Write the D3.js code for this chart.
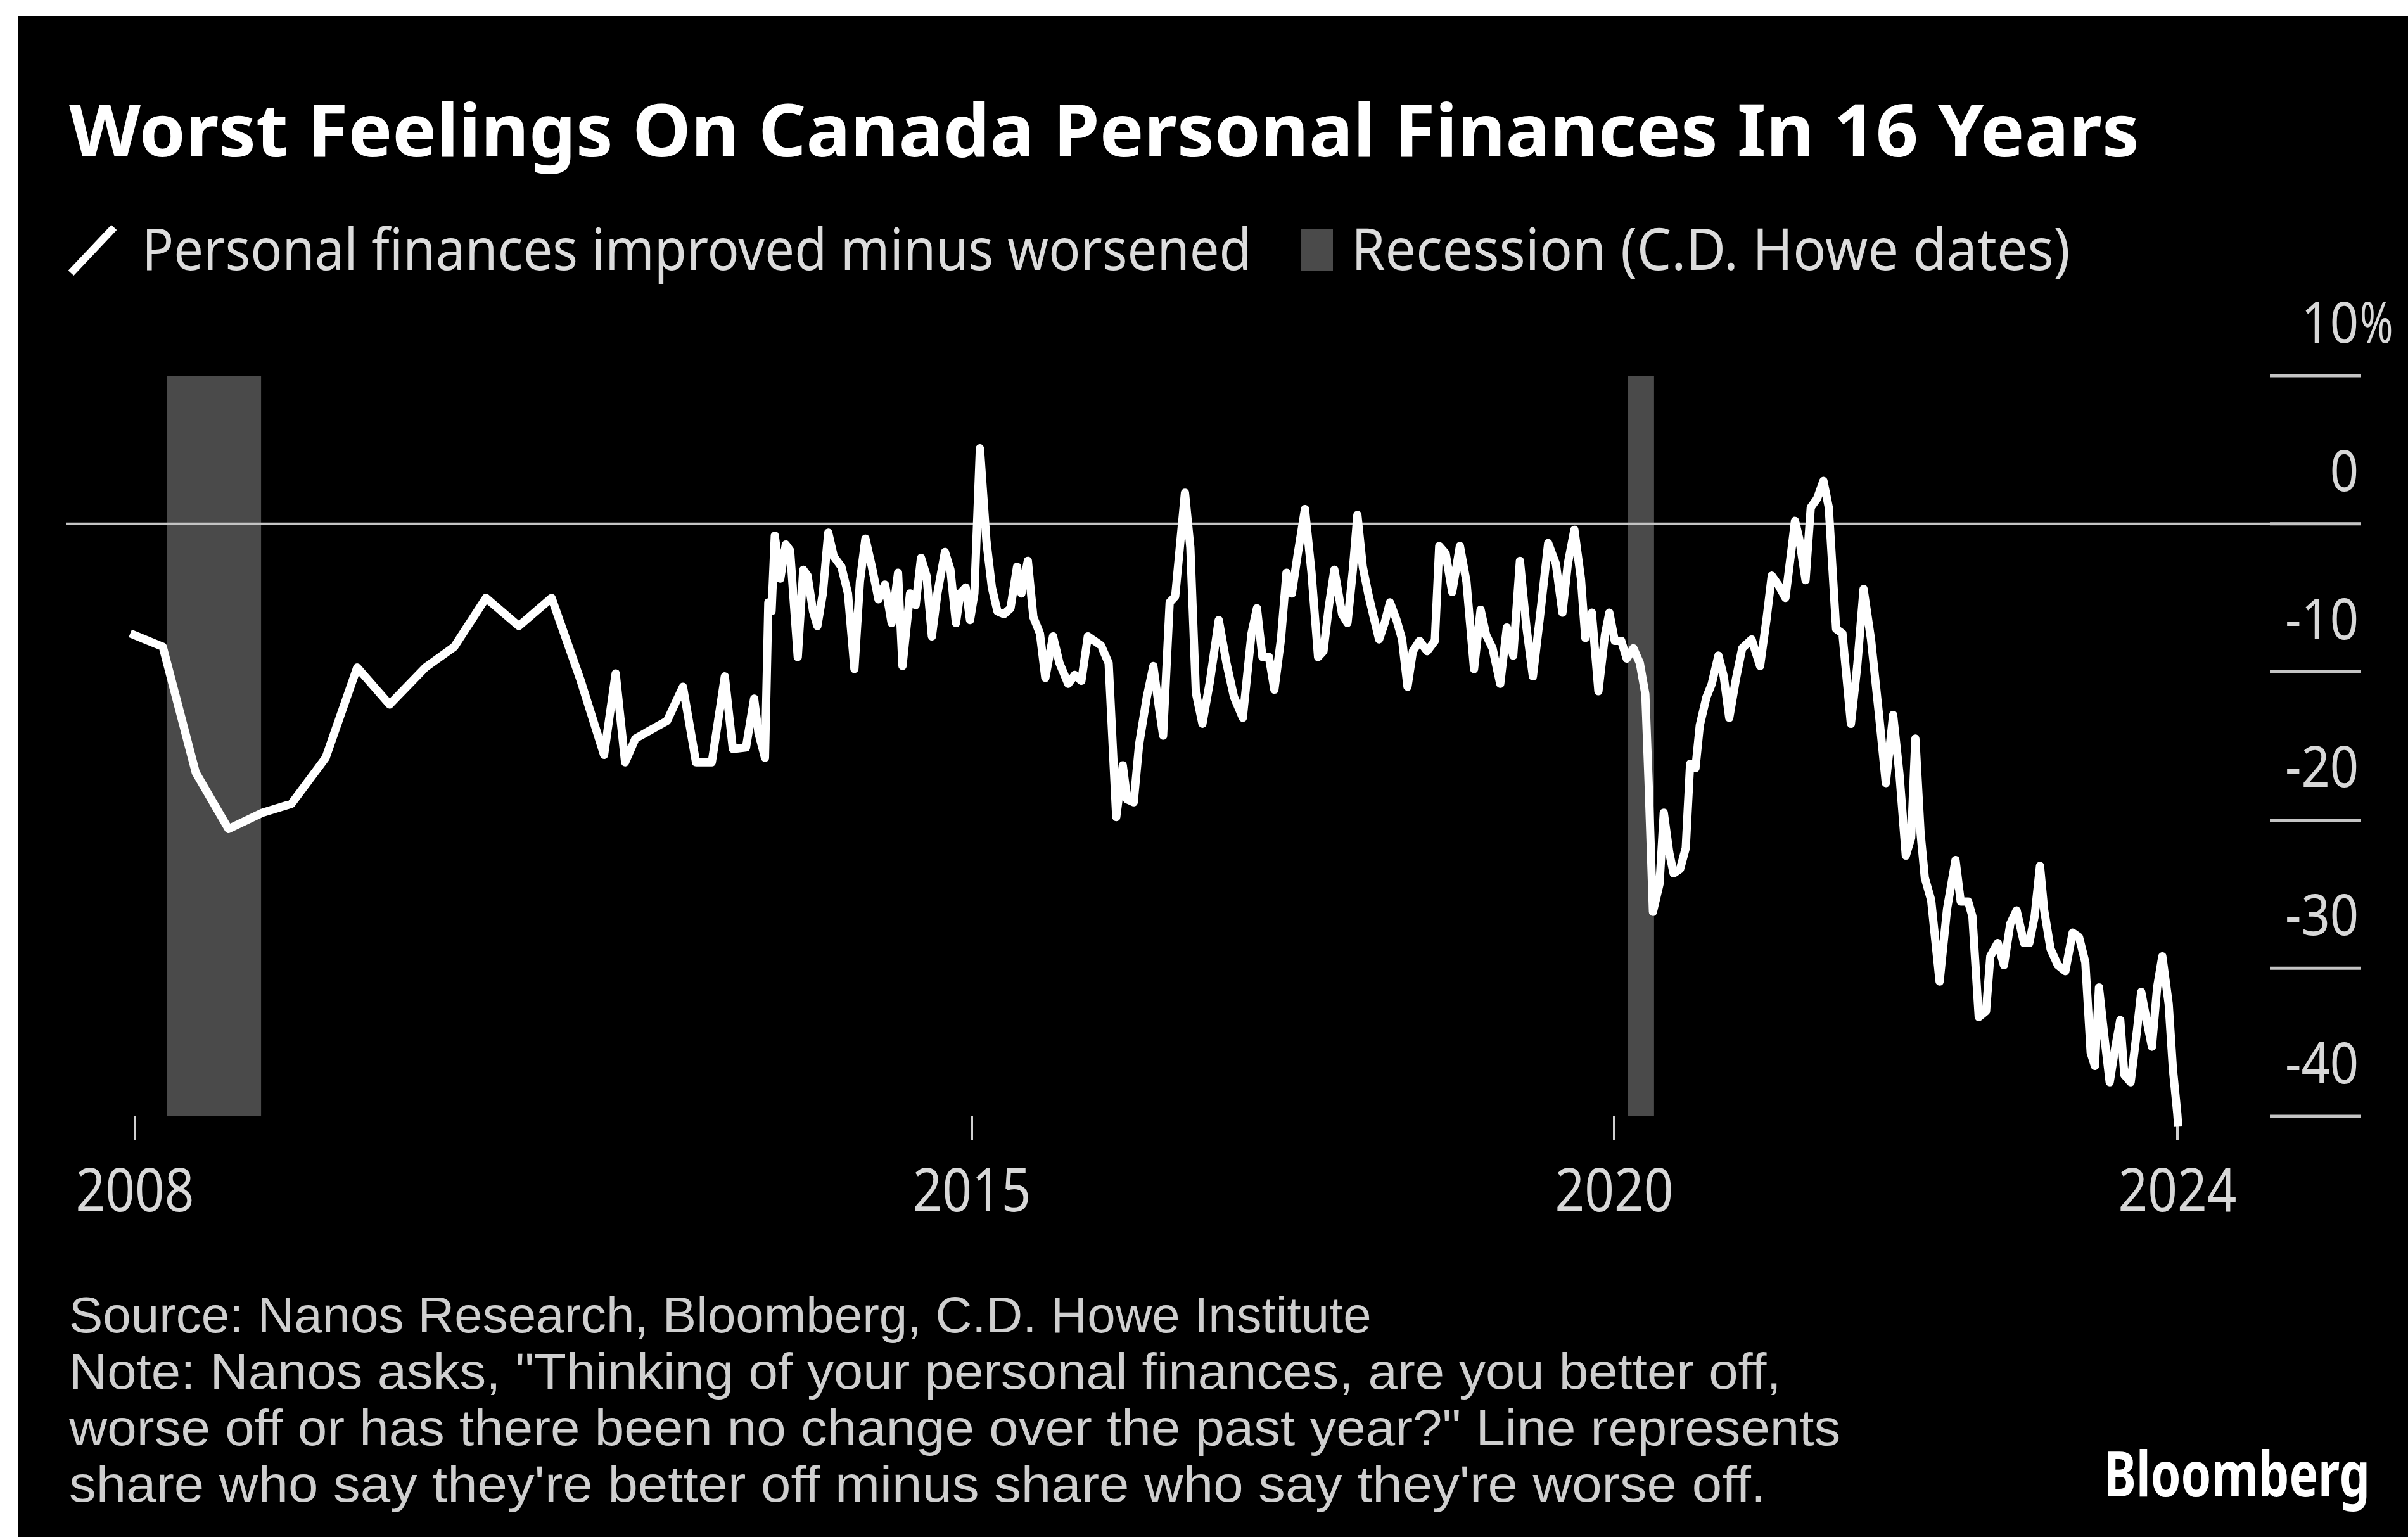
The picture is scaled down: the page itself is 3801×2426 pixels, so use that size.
<!DOCTYPE html>
<html>
<head>
<meta charset="utf-8">
<script src="https://cdn.jsdelivr.net/npm/d3@7"></script>
<style>
  html, body { margin: 0; padding: 0; background: #ffffff; }
  svg { display: block; }
</style>
</head>
<body>
<svg id="chart" width="3801" height="2426"></svg>
<script>
// Nanos survey: decimal year of each reading
const obsYears = [
  2007.961, 2008.233, 2008.509, 2008.783, 2009.068, 2009.309, 2009.595, 2009.859,
  2010.130, 2010.430, 2010.671, 2010.936, 2011.211, 2011.485, 2011.725, 2011.924,
  2012.021, 2012.100, 2012.186, 2012.451, 2012.584, 2012.693, 2012.825, 2012.934,
  2013.001, 2013.111, 2013.179, 2013.215, 2013.270, 2013.298, 2013.325, 2013.352,
  2013.398, 2013.444, 2013.480, 2013.544, 2013.590, 2013.626, 2013.672, 2013.708,
  2013.754, 2013.799, 2013.845, 2013.909, 2013.964, 2014.018, 2014.064, 2014.110,
  2014.164, 2014.219, 2014.274, 2014.329, 2014.383, 2014.420, 2014.483, 2014.530,
  2014.575, 2014.621, 2014.666, 2014.712, 2014.775, 2014.821, 2014.867, 2014.903,
  2014.949, 2014.985, 2015.020, 2015.063, 2015.114, 2015.156, 2015.199, 2015.250,
  2015.301, 2015.352, 2015.386, 2015.436, 2015.479, 2015.530, 2015.572, 2015.632,
  2015.682, 2015.750, 2015.801, 2015.853, 2015.903, 2016.005, 2016.065, 2016.124,
  2016.175, 2016.209, 2016.260, 2016.302, 2016.362, 2016.413, 2016.455, 2016.489,
  2016.540, 2016.583, 2016.659, 2016.701, 2016.744, 2016.795, 2016.854, 2016.922,
  2016.982, 2017.041, 2017.109, 2017.177, 2017.219, 2017.262, 2017.313, 2017.355,
  2017.406, 2017.449, 2017.491, 2017.534, 2017.593, 2017.644, 2017.695, 2017.737,
  2017.780, 2017.822, 2017.882, 2017.924, 2017.966, 2018.001, 2018.043, 2018.085,
  2018.128, 2018.170, 2018.213, 2018.255, 2018.306, 2018.349, 2018.391, 2018.433,
  2018.485, 2018.544, 2018.604, 2018.638, 2018.688, 2018.739, 2018.799, 2018.850,
  2018.909, 2018.960, 2019.003, 2019.053, 2019.113, 2019.164, 2019.214, 2019.266,
  2019.317, 2019.367, 2019.419, 2019.486, 2019.546, 2019.597, 2019.639, 2019.690,
  2019.741, 2019.775, 2019.826, 2019.877, 2019.928, 2019.962, 2020.004, 2020.050,
  2020.089, 2020.136, 2020.182, 2020.221, 2020.244, 2020.275, 2020.322, 2020.352,
  2020.391, 2020.422, 2020.468, 2020.508, 2020.539, 2020.577, 2020.608, 2020.655,
  2020.693, 2020.740, 2020.778, 2020.817, 2020.864, 2020.909, 2020.976, 2021.036,
  2021.081, 2021.119, 2021.164, 2021.216, 2021.261, 2021.284, 2021.314, 2021.359,
  2021.396, 2021.441, 2021.486, 2021.524, 2021.576, 2021.621, 2021.681, 2021.726,
  2021.771, 2021.824, 2021.884, 2021.929, 2021.981, 2022.026, 2022.071, 2022.109,
  2022.139, 2022.176, 2022.206, 2022.251, 2022.311, 2022.364, 2022.424, 2022.461,
  2022.514, 2022.544, 2022.589, 2022.641, 2022.671, 2022.724, 2022.768, 2022.813,
  2022.858, 2022.911, 2022.948, 2022.986, 2023.024, 2023.054, 2023.099, 2023.151,
  2023.204, 2023.256, 2023.301, 2023.346, 2023.384, 2023.414, 2023.443, 2023.481,
  2023.519, 2023.556, 2023.594, 2023.623, 2023.668, 2023.713, 2023.743, 2023.781,
  2023.819, 2023.856, 2023.893, 2023.938, 2023.968, 2023.999, 2024.006
];

// Share better off minus share worse off (%)
const netBalance = [
  -7.4, -8.3, -16.8, -20.6, -19.5, -18.9, -15.8, -9.7,
  -12.2, -9.7, -8.3, -5.0, -6.9, -5.0, -10.5, -15.6,
  -10.1, -16.1, -14.5, -13.3, -11.0, -16.1, -16.1, -10.3,
  -15.2, -15.1, -11.8, -14.1, -15.8, -5.3, -5.9, -0.8,
  -3.7, -1.4, -1.8, -9.0, -3.1, -3.5, -5.9, -6.9,
  -4.7, -0.6, -2.2, -2.9, -4.7, -9.8, -3.9, -1.0,
  -2.9, -5.1, -4.1, -6.7, -3.3, -9.6, -4.7, -5.5,
  -2.3, -3.5, -7.6, -4.7, -1.9, -3.1, -6.7, -4.7,
  -4.3, -6.5, -4.7, 5.1, -1.2, -4.3, -5.9, -6.1,
  -5.7, -2.9, -4.7, -2.5, -6.3, -7.4, -10.4, -7.6,
  -9.4, -10.8, -10.2, -10.6, -7.6, -8.2, -9.4, -19.8,
  -16.3, -18.6, -18.8, -14.9, -11.7, -9.6, -12.3, -14.3,
  -5.3, -4.9, 2.1, -1.6, -11.4, -13.5, -10.6, -6.5,
  -9.4, -11.7, -13.1, -7.4, -5.7, -9.0, -9.0, -11.2,
  -7.8, -3.3, -4.7, -2.2, 1.0, -3.3, -9.0, -8.6,
  -5.5, -3.1, -6.1, -6.7, -3.1, 0.6, -2.9, -4.7,
  -6.3, -7.8, -6.7, -5.3, -6.5, -7.8, -11.0, -8.6,
  -7.9, -8.6, -7.9, -1.5, -2.0, -4.6, -1.5, -3.9,
  -9.8, -5.8, -7.5, -8.4, -10.8, -7.0, -8.9, -2.5,
  -7.0, -10.3, -6.5, -1.3, -2.7, -6.0, -2.7, -0.4,
  -3.7, -7.7, -6.0, -11.3, -7.5, -6.0, -7.9, -7.9,
  -9.1, -8.4, -9.4, -11.5, -17.4, -26.2, -24.3, -19.5,
  -22.2, -23.6, -23.3, -21.9, -16.2, -16.5, -13.6, -11.7,
  -10.8, -8.9, -10.3, -13.1, -10.5, -8.4, -7.8, -9.6,
  -6.5, -3.5, -4.1, -5.0, -1.6, 0.2, -1.0, -3.8,
  1.1, 1.7, 2.9, 1.1, -7.1, -7.4, -13.5, -9.6,
  -4.4, -7.8, -13.2, -17.5, -12.9, -16.9, -22.4, -21.2,
  -14.5, -20.9, -23.9, -25.4, -30.9, -26.0, -22.7, -25.5,
  -25.5, -26.5, -33.3, -32.9, -29.2, -28.3, -29.8, -27.0,
  -26.1, -28.3, -28.3, -26.5, -23.1, -26.1, -28.7, -29.8,
  -30.2, -27.6, -27.9, -29.6, -35.7, -36.6, -31.3, -34.6,
  -37.7, -35.5, -33.5, -37.2, -37.7, -34.2, -31.6, -33.5,
  -35.3, -31.3, -29.2, -32.4, -36.8, -39.8, -40.7
];

// Recessions (C.D. Howe dates), as decimal years
const recessionStarts = [2008.269, 2020.097];
const recessionEnds   = [2009.055, 2020.283];

// Axis ticks
const xTickYears  = [2008, 2015, 2020, 2024];
const yTickValues = [10, 0, -10, -20, -30, -40];

// Text
const titleText = "Worst Feelings On Canada Personal Finances In 16 Years";
const legendLabels = ["Personal finances improved minus worsened", "Recession (C.D. Howe dates)"];
const footnoteLines = [
  "Source: Nanos Research, Bloomberg, C.D. Howe Institute",
  "Note: Nanos asks, \"Thinking of your personal finances, are you better off,",
  "worse off or has there been no change over the past year?\" Line represents",
  "share who say they're better off minus share who say they're worse off."
];
const brandText = "Bloomberg";

// ---------------------------------------------------------------------------
const svg = d3.select("#chart");
const FONT = "'Noto Sans', 'Liberation Sans', sans-serif";
const NOTE_FONT = "'Liberation Sans', Arial, sans-serif";

// Narrow a text horizontally around its anchor point so it spans `width` px.
function squeezeTo(sel, widthOf) {
  sel.each(function (d, i) {
    const w = this.getComputedTextLength();
    const target = typeof widthOf === "function" ? widthOf(d, i) : widthOf;
    const k = target / w;
    const x0 = +this.getAttribute("x"), y0 = +this.getAttribute("y");
    this.setAttribute("x", 0);
    this.setAttribute("y", 0);
    this.setAttribute("transform", `translate(${x0},${y0}) scale(${k},1)`);
  });
}
function squeezeBy(sel, k) {
  sel.each(function () {
    const x0 = +this.getAttribute("x"), y0 = +this.getAttribute("y");
    this.setAttribute("x", 0);
    this.setAttribute("y", 0);
    this.setAttribute("transform", `translate(${x0},${y0}) scale(${k},1)`);
  });
}

// black panel
svg.append("rect")
  .attr("x", 29).attr("y", 26)
  .attr("width", 3801 - 29).attr("height", 2426 - 26)
  .attr("fill", "#000");

// scales: the time axis is piecewise linear between the labelled years
const x = d3.scaleLinear().domain(xTickYears).range([213, 1534, 2548, 3437]);
const y = d3.scaleLinear().domain([-40, 10]).range([1762, 593]);

const plotLeft = 104, plotRight = 3727;

// recession shading
const recessions = recessionStarts.map((s, i) => ({ start: s, end: recessionEnds[i] }));
svg.append("g").selectAll("rect")
  .data(recessions)
  .join("rect")
  .attr("x", d => x(d.start))
  .attr("width", d => x(d.end) - x(d.start))
  .attr("y", y(10))
  .attr("height", y(-40) - y(10))
  .attr("fill", "#4a4a4a");

// y axis: short tick rules at the right with labels sitting above them
const yAxis = svg.append("g");
yAxis.selectAll("line")
  .data(yTickValues)
  .join("line")
  .attr("x1", 3583).attr("x2", plotRight)
  .attr("y1", d => y(d)).attr("y2", d => y(d))
  .attr("stroke", "#c4c4c4")
  .attr("stroke-width", 5);

const yLabels = yAxis.selectAll("text.num")
  .data(yTickValues)
  .join("text")
  .attr("class", "num")
  .attr("x", 3723)
  .attr("y", d => y(d) - 52)
  .attr("text-anchor", "end")
  .attr("font-family", FONT)
  .attr("font-size", 90)
  .attr("fill", "#d8d8d8")
  .text(d => String(d));
squeezeBy(yLabels, 0.88);

const pct = yAxis.append("text")
  .attr("x", 3725)
  .attr("y", y(yTickValues[0]) - 52)
  .attr("font-family", FONT)
  .attr("font-size", 90)
  .attr("fill", "#d8d8d8")
  .text("%");
squeezeBy(pct, 0.7);

// zero rule across the plot
svg.append("line")
  .attr("x1", plotLeft).attr("x2", plotRight)
  .attr("y1", y(0)).attr("y2", y(0))
  .attr("stroke", "#c4c4c4")
  .attr("stroke-width", 4);

// x axis ticks and year labels
const xAxis = svg.append("g");
xAxis.selectAll("line")
  .data(xTickYears)
  .join("line")
  .attr("x1", d => x(d)).attr("x2", d => x(d))
  .attr("y1", y(-40)).attr("y2", y(-40) + 38)
  .attr("stroke", "#d0d0d0")
  .attr("stroke-width", 4);

const xLabels = xAxis.selectAll("text")
  .data(xTickYears)
  .join("text")
  .attr("x", d => x(d))
  .attr("y", 1912)
  .attr("text-anchor", "middle")
  .attr("font-family", FONT)
  .attr("font-size", 95)
  .attr("fill", "#d8d8d8")
  .text(d => String(d));
squeezeTo(xLabels, 187);

// the series line
const series = obsYears.map((t, i) => ({ t, v: netBalance[i] }));
const line = d3.line().x(d => x(d.t)).y(d => y(d.v)).curve(d3.curveLinear);
svg.append("path")
  .datum(series)
  .attr("d", line)
  .attr("fill", "none")
  .attr("stroke", "#ffffff")
  .attr("stroke-width", 13)
  .attr("stroke-linejoin", "round")
  .attr("stroke-linecap", "butt");

// title
const title = svg.append("text")
  .attr("x", 109).attr("y", 247)
  .attr("font-family", FONT)
  .attr("font-weight", "bold")
  .attr("font-size", 114)
  .attr("fill", "#ffffff")
  .text(titleText);
squeezeTo(title, 3268);

// legend
const legend = svg.append("g");
legend.append("line")
  .attr("x1", 112).attr("y1", 431)
  .attr("x2", 180).attr("y2", 359)
  .attr("stroke", "#ffffff")
  .attr("stroke-width", 12);
const leg1 = legend.append("text")
  .attr("x", 224).attr("y", 426)
  .attr("font-family", FONT)
  .attr("font-size", 91)
  .attr("fill", "#dcdcdc")
  .text(legendLabels[0]);
squeezeTo(leg1, 1752);
legend.append("rect")
  .attr("x", 2054).attr("y", 362)
  .attr("width", 50).attr("height", 66)
  .attr("fill", "#4a4a4a");
const leg2 = legend.append("text")
  .attr("x", 2133).attr("y", 426)
  .attr("font-family", FONT)
  .attr("font-size", 91)
  .attr("fill", "#dcdcdc")
  .text(legendLabels[1]);
squeezeTo(leg2, 1135);

// footnotes
const footWidths = [2056, 2703, 2797, 2679];
const notes = svg.append("g").selectAll("text")
  .data(footnoteLines)
  .join("text")
  .attr("x", 109)
  .attr("y", (d, i) => 2103 + i * 89)
  .attr("font-family", NOTE_FONT)
  .attr("font-size", 79)
  .attr("fill", "#cfcfcf")
  .text(d => d);
squeezeTo(notes, (d, i) => footWidths[i]);

// brand mark
const brand = svg.append("text")
  .attr("x", 3321).attr("y", 2362)
  .attr("font-family", FONT)
  .attr("font-weight", "bold")
  .attr("font-size", 98)
  .attr("fill", "#ffffff")
  .text(brandText);
squeezeTo(brand, 420);
</script>
</body>
</html>
